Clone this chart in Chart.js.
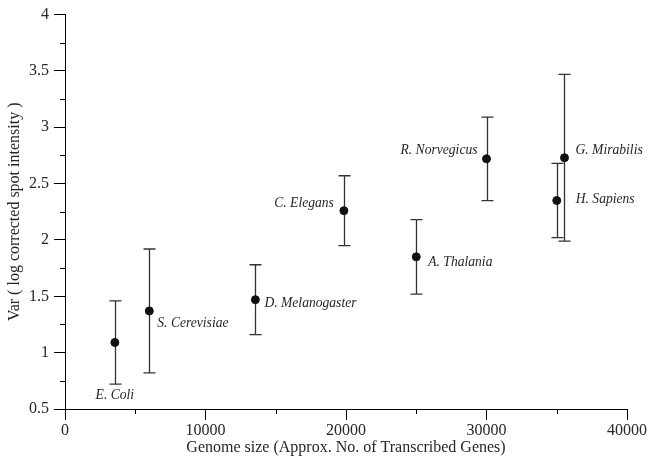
<!DOCTYPE html>
<html>
<head>
<meta charset="utf-8">
<script src="https://cdn.jsdelivr.net/npm/chart.js@4"></script>
<style>
html, body { margin: 0; padding: 0; background: #fff; }
#wrap { width: 648px; height: 457px; }
</style>
</head>
<body>
<div id="wrap"><canvas id="chart"></canvas></div>
<script>
// Data
const species = ['E. Coli', 'S. Cerevisiae', 'D. Melanogaster', 'C. Elegans', 'A. Thalania', 'R. Norvegicus', 'G. Mirabilis', 'H. Sapiens'];
const genomeSize = [3550, 6000, 13550, 19850, 25000, 30000, 35550, 35000];
const variance = [1.09, 1.37, 1.47, 2.26, 1.85, 2.72, 2.73, 2.35];
const errLow = [0.72, 0.82, 1.16, 1.95, 1.52, 2.35, 1.99, 2.02];
const errHigh = [1.46, 1.92, 1.78, 2.57, 2.18, 3.09, 3.47, 2.68];
const xTicks = [0, 10000, 20000, 30000, 40000];
const yTicks = [0.5, 1, 1.5, 2, 2.5, 3, 3.5, 4];

// where each species name sits relative to its point
const labelPlace = [
    { dx: 0, dy: 53, align: 'center' },
    { dx: 8, dy: 12, align: 'left' },
    { dx: 9, dy: 4, align: 'left' },
    { dx: -10, dy: -7, align: 'right' },
    { dx: 12, dy: 6, align: 'left' },
    { dx: -9, dy: -8, align: 'right' },
    { dx: 11, dy: -7, align: 'left' },
    { dx: 19, dy: -1, align: 'left' }
];

const serif = "'Liberation Serif', 'DejaVu Serif', serif";
const ink = '#262626';

// Error bars, minor ticks and species labels
const extras = {
    id: 'extras',
    beforeDatasetsDraw(chart) {
        const ctx = chart.ctx;
        const x = chart.scales.x, y = chart.scales.y;
        ctx.save();
        ctx.strokeStyle = '#333';
        ctx.lineWidth = 1.3;
        genomeSize.forEach((g, i) => {
            const px = Math.round(x.getPixelForValue(g)) + 0.5;
            const top = y.getPixelForValue(errHigh[i]);
            const bot = y.getPixelForValue(errLow[i]);
            ctx.beginPath();
            ctx.moveTo(px, top); ctx.lineTo(px, bot);
            ctx.moveTo(px - 6, top); ctx.lineTo(px + 6, top);
            ctx.moveTo(px - 6, bot); ctx.lineTo(px + 6, bot);
            ctx.stroke();
        });
        ctx.restore();
    },
    afterDraw(chart) {
        const ctx = chart.ctx;
        const x = chart.scales.x, y = chart.scales.y;
        const area = chart.chartArea;
        ctx.save();
        ctx.strokeStyle = '#000';
        ctx.lineWidth = 1;
        ctx.beginPath();
        for (let v = 5000; v < 40000; v += 10000) {
            const px = Math.round(x.getPixelForValue(v)) + 0.5;
            ctx.moveTo(px, area.bottom); ctx.lineTo(px, area.bottom + 5);
        }
        for (let v = 0.75; v < 4; v += 0.5) {
            const py = Math.round(y.getPixelForValue(v)) + 0.5;
            ctx.moveTo(area.left, py); ctx.lineTo(area.left - 5, py);
        }
        ctx.stroke();

        ctx.fillStyle = ink;
        ctx.font = 'italic 13.6px ' + serif;
        ctx.textBaseline = 'middle';
        species.forEach((name, i) => {
            const p = labelPlace[i];
            ctx.textAlign = p.align;
            ctx.fillText(name, x.getPixelForValue(genomeSize[i]) + p.dx, y.getPixelForValue(variance[i]) + p.dy);
        });
        ctx.restore();
    }
};

const ctx = document.getElementById('chart').getContext('2d');
const chart = new Chart(ctx, {
    type: 'scatter',
    data: {
        datasets: [{
            data: genomeSize.map((g, i) => ({ x: g, y: variance[i] })),
            backgroundColor: '#111',
            borderColor: '#111',
            pointRadius: 4,
            pointHoverRadius: 4
        }]
    },
    options: {
        responsive: true,
        maintainAspectRatio: false,
        animation: false,
        events: [],
        layout: { padding: { top: 14, right: 20, left: 0, bottom: 0 } },
        plugins: {
            legend: { display: false },
            tooltip: { enabled: false }
        },
        scales: {
            x: {
                type: 'linear',
                min: 0,
                max: 40000,
                afterBuildTicks: s => { s.ticks = xTicks.map(v => ({ value: v })); },
                afterFit: s => { s.height = 48; },
                grid: { drawOnChartArea: false, tickLength: 11, tickColor: '#000' },
                border: { color: '#000', width: 1 },
                ticks: {
                    color: ink,
                    font: { family: serif, size: 16 },
                    padding: 1,
                    maxRotation: 0,
                    callback: v => String(v)
                },
                title: {
                    display: true,
                    text: 'Genome size (Approx. No. of Transcribed Genes)',
                    color: ink,
                    font: { family: serif, size: 16 },
                    padding: { top: 0, bottom: 0 }
                }
            },
            y: {
                min: 0.5,
                max: 4,
                afterBuildTicks: s => { s.ticks = yTicks.map(v => ({ value: v })); },
                afterFit: s => { s.width = 65; },
                grid: { drawOnChartArea: false, tickLength: 11, tickColor: '#000' },
                border: { color: '#000', width: 1 },
                ticks: {
                    color: ink,
                    font: { family: serif, size: 16 },
                    padding: 5,
                    callback: v => String(v)
                },
                title: {
                    display: true,
                    text: 'Var ( log corrected spot intensity )',
                    color: ink,
                    font: { family: serif, size: 16 },
                    padding: { top: 5, bottom: 0 }
                }
            }
        }
    },
    plugins: [extras]
});
</script>
</body>
</html>
